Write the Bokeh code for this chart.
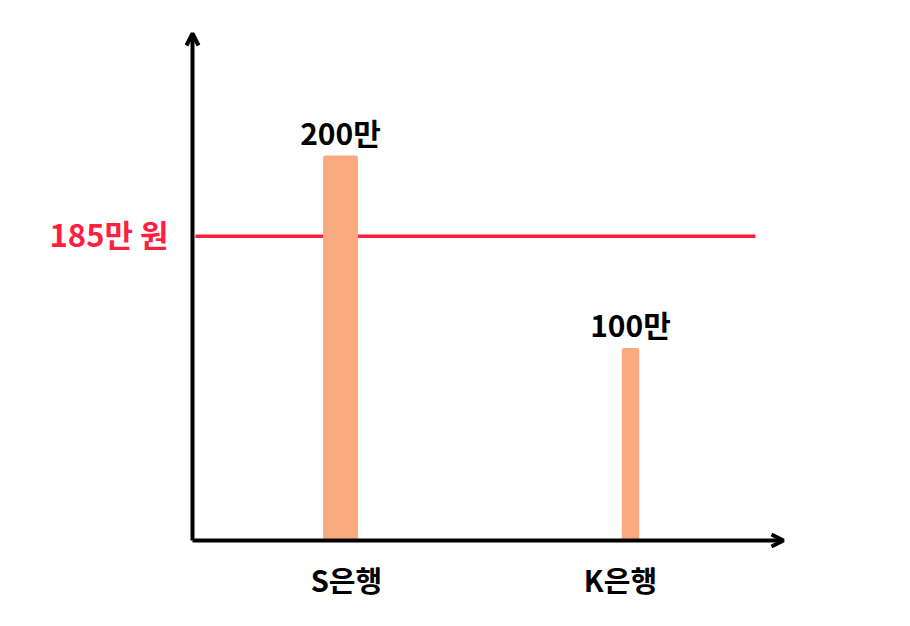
from bokeh.plotting import figure
from bokeh.models import Range1d, Arrow, OpenHead, ColumnDataSource
from bokeh.core.properties import value
from bokeh.embed import file_html
from bokeh.resources import INLINE

# data
banks = ["S은행", "K은행"]
amounts = [200, 100]
amount_labels = ["200만", "100만"]
threshold_label = "185만 원"
threshold_level = 158  # where the reference draws its 185만 line

FONT = value("Noto Sans CJK KR")
BAR_COLOR = "#F9AA7E"
RED = "#FF1F3F"

W, H = 894, 610
px_x = 290.0   # pixels per bar slot
px_y = 1.925   # pixels per 만 won
x0, y0 = 340, 540  # canvas position of first bar / baseline

p = figure(width=W, height=H, output_backend="svg", toolbar_location=None,
           min_border=0, x_axis_type=None, y_axis_type=None)
p.x_range = Range1d(-x0 / px_x, (W - x0) / px_x)
p.y_range = Range1d(-(H - y0) / px_y, y0 / px_y)
p.outline_line_color = None
p.xgrid.visible = False
p.ygrid.visible = False
p.background_fill_color = "white"

xs = list(range(len(banks)))
src = ColumnDataSource(dict(x=xs, top=amounts, label=amount_labels, bank=banks,
                            w=[0.12, 0.06], dx=[6, -10]))

ax_x = -148 / px_x
# threshold line
p.segment(x0=ax_x + 0.01, y0=threshold_level, x1=415 / px_x, y1=threshold_level,
          line_color=RED, line_width=3.5)

p.vbar(x="x", top="top", bottom=0, width="w", source=src,
       fill_color=BAR_COLOR, line_color=None, border_radius=2)

# axes with arrow heads
p.add_layout(Arrow(end=OpenHead(size=12, line_width=4, line_color="black"),
                   x_start=ax_x, y_start=0, x_end=ax_x, y_end=(y0 - 33) / px_y,
                   line_width=4, line_color="black"))
p.add_layout(Arrow(end=OpenHead(size=12, line_width=4, line_color="black"),
                   x_start=ax_x, y_start=0, x_end=(783 - x0) / px_x, y_end=0,
                   line_width=4, line_color="black"))

# value labels
p.text(x="x", y="top", text="label", source=src, text_font=FONT,
       text_font_style="bold", text_font_size="30px", text_color="black",
       text_align="center", text_baseline="bottom", y_offset=-2)

# category labels
p.text(x="x", y=0, text="bank", source=src, text_font=FONT, x_offset="dx",
       text_font_style="bold", text_font_size="29px", text_color="black",
       text_align="center", text_baseline="middle", y_offset=38)

# threshold label
p.text(x=[ax_x], y=[threshold_level], text=[threshold_label], text_font=FONT,
       text_font_style="bold", text_font_size="31px", text_color=RED,
       text_align="right", text_baseline="middle", x_offset=-24, y_offset=-3)

open("out.html", "w").write(file_html(p, INLINE))
